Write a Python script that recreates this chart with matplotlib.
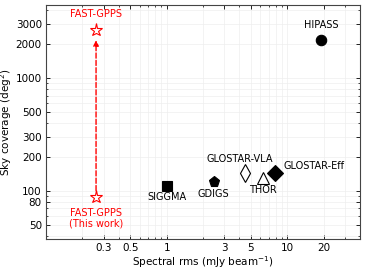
import matplotlib
matplotlib.use("Agg")
import matplotlib.pyplot as plt
from matplotlib.ticker import FixedLocator, FixedFormatter, LogLocator, NullFormatter

surveys = ["HIPASS", "SIGGMA", "GDIGS", "GLOSTAR-VLA", "THOR", "GLOSTAR-Eff"]
rms = [19.0, 1.0, 2.45, 4.5, 6.3, 7.9]
coverage = [2200, 110, 120, 144, 130, 144]
markers = ["o", "s", "p", "d", "^", "D"]
filled = [True, True, True, False, False, True]
sizes = [7.5, 7, 8, 9, 8, 8.5]

fast_rms = 0.26
fast_now = 88
fast_full = 2700

xticks = [0.3, 0.5, 1, 3, 5, 10, 20]
xticklabels = ["0.3", "0.5", "1", "3", "5", "10", "20"]
yticks = [50, 80, 100, 200, 300, 500, 1000, 2000, 3000]
yticklabels = ["50", "80", "100", "200", "300", "500", "1000", "2000", "3000"]

fig = plt.figure(figsize=(3.65, 2.7), dpi=100)
ax = fig.add_axes([0.126, 0.115, 0.86, 0.866])
ax.set_xscale("log")
ax.set_yscale("log")
ax.set_xlim(0.1, 40)
ax.set_ylim(37.5, 4450)

ax.grid(True, which="both", color="#eeeeee", linewidth=0.5, zorder=0)

for name, x, y, m, f, s in zip(surveys, rms, coverage, markers, filled, sizes):
    ax.plot([x], [y], marker=m, markersize=s, color="black",
            markerfacecolor="black" if f else "white", markeredgewidth=0.8,
            linestyle="none", zorder=3)

ax.annotate("", xy=(fast_rms, 2300), xytext=(fast_rms, fast_now * 1.08),
            arrowprops=dict(arrowstyle="-|>", color="red", linestyle="--",
                            linewidth=1.0, mutation_scale=8), zorder=2)
ax.plot([fast_rms], [fast_now], marker="*", markersize=9.5, color="red",
        markerfacecolor="white", markeredgewidth=0.8, linestyle="none", zorder=3)
ax.plot([fast_rms], [fast_full], marker="*", markersize=9.5, color="red",
        markerfacecolor="white", markeredgewidth=0.8, linestyle="none", zorder=3)

fs = 7
ax.text(fast_rms, 3350, "FAST-GPPS", color="red", fontsize=fs, ha="center", va="bottom")
ax.text(fast_rms, 71, "FAST-GPPS\n(This work)", color="red", fontsize=fs,
        ha="center", va="top", linespacing=1.1)
ax.text(19.0, 2700, "HIPASS", fontsize=fs, ha="center", va="bottom")
ax.text(1.0, 97, "SIGGMA", fontsize=fs, ha="center", va="top")
ax.text(2.45, 104, "GDIGS", fontsize=fs, ha="center", va="top")
ax.text(4.0, 172, "GLOSTAR-VLA", fontsize=fs, ha="center", va="bottom")
ax.text(6.3, 112, "THOR", fontsize=fs, ha="center", va="top")
ax.text(9.3, 150, "GLOSTAR-Eff", fontsize=fs, ha="left", va="bottom")

ax.xaxis.set_major_locator(FixedLocator(xticks))
ax.xaxis.set_major_formatter(FixedFormatter(xticklabels))
ax.xaxis.set_minor_locator(LogLocator(base=10, subs=range(1, 10)))
ax.xaxis.set_minor_formatter(NullFormatter())
ax.yaxis.set_major_locator(FixedLocator(yticks))
ax.yaxis.set_major_formatter(FixedFormatter(yticklabels))
ax.yaxis.set_minor_locator(LogLocator(base=10, subs=range(1, 10)))
ax.yaxis.set_minor_formatter(NullFormatter())

ax.tick_params(which="both", direction="in", top=True, right=True, labelsize=7.5, pad=3)
ax.tick_params(which="major", length=3, width=0.6)
ax.tick_params(which="minor", length=1.5, width=0.5)
for sp in ax.spines.values():
    sp.set_linewidth(0.8)
    sp.set_color("#444444")

ax.set_xlabel("Spectral rms (mJy beam$^{-1}$)", fontsize=7.5, labelpad=1)
ax.set_ylabel("Sky coverage (deg$^{2}$)", fontsize=7.5, labelpad=1)

fig.savefig("out.png", dpi=100)
